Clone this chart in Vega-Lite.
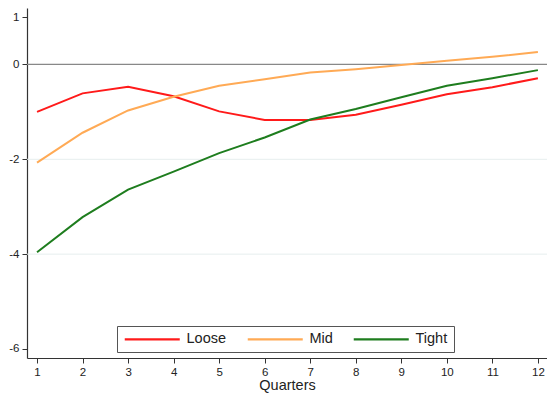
{
  "$schema": "https://vega.github.io/schema/vega-lite/v6.json",
  "width": 520,
  "height": 350,
  "autosize": {"type": "none"},
  "padding": {"left": 27, "top": 8, "right": 0, "bottom": 36},
  "background": "white",
  "config": {
    "view": {"stroke": null},
    "font": "Liberation Sans",
    "axis": {"labelFont": "Liberation Sans", "titleFont": "Liberation Sans", "labelColor": "#222", "titleColor": "#222", "domainColor": "#333", "tickColor": "#333", "grid": false}
  },
  "datasets": {
    "series": [
      {"q": 1, "s": "Loose", "v": -1.0}, {"q": 2, "s": "Loose", "v": -0.61}, {"q": 3, "s": "Loose", "v": -0.47}, {"q": 4, "s": "Loose", "v": -0.67}, {"q": 5, "s": "Loose", "v": -0.99}, {"q": 6, "s": "Loose", "v": -1.17}, {"q": 7, "s": "Loose", "v": -1.17}, {"q": 8, "s": "Loose", "v": -1.06}, {"q": 9, "s": "Loose", "v": -0.85}, {"q": 10, "s": "Loose", "v": -0.63}, {"q": 11, "s": "Loose", "v": -0.48}, {"q": 12, "s": "Loose", "v": -0.29},
      {"q": 1, "s": "Mid", "v": -2.07}, {"q": 2, "s": "Mid", "v": -1.44}, {"q": 3, "s": "Mid", "v": -0.97}, {"q": 4, "s": "Mid", "v": -0.68}, {"q": 5, "s": "Mid", "v": -0.45}, {"q": 6, "s": "Mid", "v": -0.31}, {"q": 7, "s": "Mid", "v": -0.17}, {"q": 8, "s": "Mid", "v": -0.1}, {"q": 9, "s": "Mid", "v": -0.01}, {"q": 10, "s": "Mid", "v": 0.08}, {"q": 11, "s": "Mid", "v": 0.16}, {"q": 12, "s": "Mid", "v": 0.26},
      {"q": 1, "s": "Tight", "v": -3.96}, {"q": 2, "s": "Tight", "v": -3.22}, {"q": 3, "s": "Tight", "v": -2.64}, {"q": 4, "s": "Tight", "v": -2.26}, {"q": 5, "s": "Tight", "v": -1.87}, {"q": 6, "s": "Tight", "v": -1.54}, {"q": 7, "s": "Tight", "v": -1.16}, {"q": 8, "s": "Tight", "v": -0.94}, {"q": 9, "s": "Tight", "v": -0.69}, {"q": 10, "s": "Tight", "v": -0.45}, {"q": 11, "s": "Tight", "v": -0.29}, {"q": 12, "s": "Tight", "v": -0.12}
    ],
    "grid": [{"g": -2}, {"g": -4}]
  },
  "layer": [
    {
      "data": {"name": "grid"},
      "mark": {"type": "rule", "color": "#e6eeee", "strokeWidth": 1},
      "encoding": {
        "y": {"field": "g", "type": "quantitative", "scale": {"domain": [-6.19, 1.19], "nice": false, "zero": false},
          "axis": {"values": [1, 0, -2, -4, -6], "title": null, "labelExpr": "toString(datum.value)", "labelFontSize": 11.5, "tickSize": 5, "labelPadding": 3, "domainWidth": 1.2}}
      }
    },
    {
      "data": {"values": [{"z": 0}]},
      "mark": {"type": "rule", "color": "#888888", "strokeWidth": 1.3},
      "encoding": {
        "y": {"field": "z", "type": "quantitative", "axis": {"values": [1, 0, -2, -4, -6], "title": null, "labelExpr": "toString(datum.value)", "labelFontSize": 11.5, "tickSize": 5, "labelPadding": 3, "domainWidth": 1.2}}
      }
    },
    {
      "data": {"name": "series"},
      "mark": {"type": "line", "strokeWidth": 2},
      "encoding": {
        "x": {
          "field": "q", "type": "quantitative",
          "scale": {"domain": [0.78, 12.2], "nice": false, "zero": false},
          "axis": {"values": [1,2,3,4,5,6,7,8,9,10,11,12], "format": "d", "title": "Quarters", "titleFontSize": 14.5, "titleFontWeight": "normal", "labelFontSize": 11.5, "tickSize": 5, "labelPadding": 3, "titlePadding": 1, "domainWidth": 1.2}
        },
        "y": {
          "field": "v", "type": "quantitative",
          "scale": {"domain": [-6.19, 1.19], "nice": false, "zero": false},
          "axis": {"values": [1, 0, -2, -4, -6], "title": null, "labelExpr": "toString(datum.value)", "labelFontSize": 11.5, "tickSize": 5, "labelPadding": 3, "domainWidth": 1.2}
        },
        "color": {
          "field": "s", "type": "nominal",
          "scale": {"domain": ["Loose", "Mid", "Tight"], "range": ["#ff1a1a", "#ffaa55", "#1e7d1e"]},
          "legend": {
            "title": null, "orient": "none", "direction": "horizontal", "legendX": 90, "legendY": 318,
            "symbolType": "M-1,0H9", "symbolSize": 121, "symbolStrokeWidth": 2.2, "symbolFillColor": "transparent", "labelFontSize": 14.5, "labelFont": "Liberation Sans", "labelColor": "#222",
            "labelOffset": 49, "columnPadding": 16, "padding": 6, "strokeColor": "#555555", "fillColor": "white"
          }
        }
      }
    }
  ]
}
